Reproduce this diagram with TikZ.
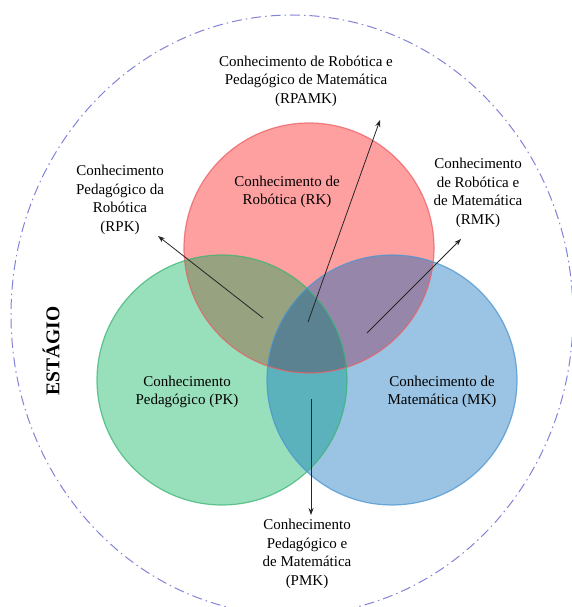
\documentclass[tikz,border=0pt]{standalone}
\usepackage{fontspec}
\setmainfont{Liberation Serif}
\usetikzlibrary{arrows.meta}
\definecolor{rfill}{RGB}{255,160,160}
\definecolor{rline}{RGB}{235,95,100}
\definecolor{gfill}{RGB}{152,224,188}
\definecolor{gline}{RGB}{60,180,115}
\definecolor{bfill}{RGB}{155,196,228}
\definecolor{bline}{RGB}{75,148,208}
\definecolor{rgfill}{RGB}{150,162,128}
\definecolor{rbfill}{RGB}{150,135,170}
\definecolor{gbfill}{RGB}{92,178,188}
\definecolor{rgbfill}{RGB}{90,130,145}
\definecolor{outerc}{RGB}{130,130,215}
\begin{document}
\begin{tikzpicture}[x=1pt,y=-1pt,
  lbl/.style={align=center,font=\fontsize{15}{18.5}\selectfont,inner sep=0pt},
  conn/.style={-{Stealth[length=7pt,width=5pt]},line width=0.8pt,draw=black!85},
  setcircle/.style={circle,minimum size=250pt,inner sep=0pt,line width=1.2pt,draw opacity=0.75}]
\useasboundingbox (0,0) rectangle (572,607);
\draw[outerc,line width=1pt,dash pattern=on 10pt off 4pt on 1.5pt off 4pt]
  (292,315) ellipse [x radius=281pt, y radius=300pt];
\coordinate (cR) at (309,248);
\coordinate (cP) at (222,380);
\coordinate (cM) at (392,380);
\fill[rfill] (cR) circle[radius=125pt];
\fill[gfill] (cP) circle[radius=125pt];
\fill[bfill] (cM) circle[radius=125pt];
\begin{scope}
  \clip (cR) circle[radius=125pt];
  \fill[rgfill] (cP) circle[radius=125pt];
  \fill[rbfill] (cM) circle[radius=125pt];
\end{scope}
\begin{scope}
  \clip (cP) circle[radius=125pt];
  \fill[gbfill] (cM) circle[radius=125pt];
\end{scope}
\begin{scope}
  \clip (cR) circle[radius=125pt];
  \clip (cP) circle[radius=125pt];
  \fill[rgbfill] (cM) circle[radius=125pt];
\end{scope}
\node[setcircle,draw=rline] (R) at (cR) {};
\node[setcircle,draw=gline] (P) at (cP) {};
\node[setcircle,draw=bline] (M) at (cM) {};
\node[lbl] (RK) at (287,192) {Conhecimento de\\Robótica (RK)};
\node[lbl] (PK) at (187,392) {Conhecimento\\Pedagógico (PK)};
\node[lbl] (MK) at (442,392) {Conhecimento de\\Matemática (MK)};
\node[lbl] (RPAMK) at (306,81) {Conhecimento de Robótica e\\Pedagógico de Matemática\\(RPAMK)};
\node[lbl] (RPK) at (120,200) {Conhecimento\\Pedagógico da\\Robótica\\(RPK)};
\node[lbl] (RMK) at (478,193) {Conhecimento\\de Robótica e\\de Matemática\\(RMK)};
\node[lbl] (PMK) at (307,554) {Conhecimento\\Pedagógico e\\de Matemática\\(PMK)};
\node[rotate=90,inner sep=0pt,font=\fontsize{19.5}{20}\selectfont\bfseries] (EST) at (51,351) {ESTÁGIO};
\coordinate (s1) at (263,318); \coordinate (t1) at (158,236);
\coordinate (s2) at (308,322); \coordinate (t2) at (380,120);
\coordinate (s3) at (367,333); \coordinate (t3) at (461,239);
\coordinate (s4) at (311,399); \coordinate (t4) at (311,515);
\draw[conn] (s1) -- (t1);
\draw[conn] (s2) -- (t2);
\draw[conn] (s3) -- (t3);
\draw[conn] (s4) -- (t4);
\end{tikzpicture}
\end{document}
